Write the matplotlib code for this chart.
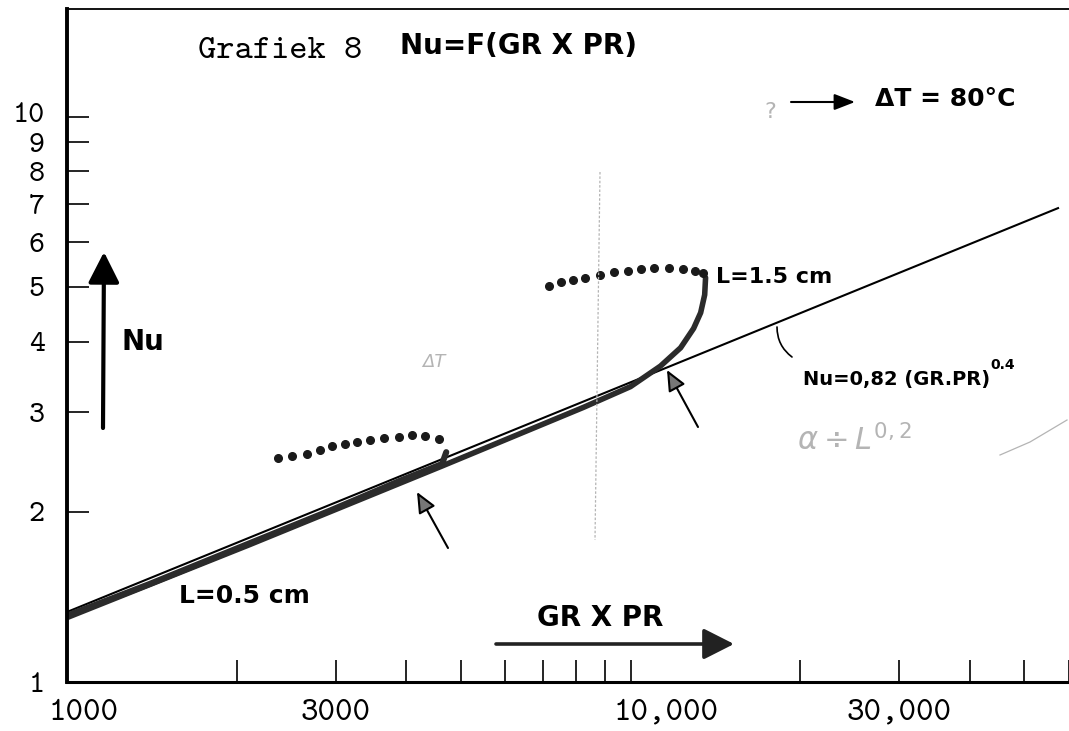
# -*- coding: utf-8 -*-

""" Grafiek 8: Nu = F(GR x PR), scanned hand drawn log-log chart """

import matplotlib
matplotlib.use("Agg")
from matplotlib import pyplot as plt
from matplotlib import transforms
from matplotlib.ticker import NullLocator
from matplotlib.lines import Line2D

W, H = 1069, 731

# correlation line Nu = 0,82 (GR.PR)^0.4 as drawn
line_x  = [1000, 57600]
line_nu = [1.33, 6.90]

# measured, L = 0.5 cm (thick)
l05_x  = [1000, 1400, 2110, 2930, 3900, 4630, 4710]
l05_nu = [1.31, 1.49, 1.76, 2.01, 2.27, 2.43, 2.55]

# measured, L = 1.5 cm (thick)
l15_x  = [1000, 2110, 4630, 8250, 10000, 11300, 12270, 12940, 13320, 13540, 13590]
l15_nu = [1.30, 1.75, 2.41, 3.06, 3.33, 3.62, 3.90, 4.22, 4.50, 4.84, 5.19]

# dotted continuations
dot05_x  = [2373, 2506, 2666, 2815, 2953, 3118, 3271, 3453, 3645, 3877, 4096, 4324, 4566]
dot05_nu = [2.49, 2.51, 2.53, 2.57, 2.61, 2.64, 2.66, 2.68, 2.70, 2.71, 2.73, 2.72, 2.69]
dot15_x  = [7180, 7540, 7920, 8320, 8810, 9330, 9880, 10420, 11030, 11680, 12370, 12990, 13430]
dot15_nu = [5.02, 5.09, 5.15, 5.19, 5.25, 5.32, 5.34, 5.38, 5.40, 5.40, 5.38, 5.34, 5.28]

# axis ticks
x_ticks  = [1000, 2000, 3000, 4000, 5000, 6000, 7000, 8000, 9000,
            10000, 20000, 30000, 40000, 50000, 60000]
x_labels = ['1000', '', '3000', '', '', '', '', '', '',
            '10,000', '', '30,000', '', '', '']
y_ticks  = [1, 2, 3, 4, 5, 6, 7, 8, 9, 10]
y_labels = ['1', '2', '3', '4', '5', '6', '7', '8', '9', '10']

hand = 'DejaVu Sans'
typew = 'cmtt10'
pencil = '#b4b4b4'


def fx(px):
    return px / W


def fy(py):
    return 1 - py / H


fig = plt.figure(figsize=(W / 100, H / 100), dpi=100)
ax = fig.add_axes([fx(67), 49 / H, 1 - fx(67), (722 - 49) / H])
ax.set_xscale('log')
ax.set_yscale('log')
ax.set_xlim(1000, 60000)
ax.set_ylim(1, 15.5)

ax.plot(line_x, line_nu, color='black', lw=1.5, solid_capstyle='butt')
ax.plot(l05_x, l05_nu, color='#2b2b2b', lw=4.4, solid_capstyle='round')
ax.plot(l15_x, l15_nu, color='#2b2b2b', lw=4.0, solid_capstyle='round')
ax.plot(dot05_x, dot05_nu, ls='none', marker='o', ms=5.5, color='#1a1a1a')
ax.plot(dot15_x, dot15_nu, ls='none', marker='o', ms=5.5, color='#1a1a1a')

ax.set_xticks(x_ticks, x_labels)
ax.set_yticks(y_ticks, y_labels)
ax.xaxis.set_minor_locator(NullLocator())
ax.yaxis.set_minor_locator(NullLocator())
ax.tick_params(axis='both', direction='in', length=16, width=1.2, color='black')
ax.tick_params(axis='x', pad=12)
ax.tick_params(axis='y', pad=16)
for lab in ax.get_xticklabels():
    lab.set_fontfamily(typew)
    lab.set_fontsize(24)
for lab in ax.get_yticklabels():
    lab.set_fontfamily(typew)
    lab.set_fontsize(22)

# typed labels sit a bit off their ticks
for lab in ax.get_xticklabels():
    if lab.get_text() == '1000':
        lab.set_transform(lab.get_transform() + transforms.ScaledTranslation(0.17, 0, fig.dpi_scale_trans))
    if lab.get_text() == '10,000':
        lab.set_transform(lab.get_transform() + transforms.ScaledTranslation(0.36, 0, fig.dpi_scale_trans))
for lab in ax.get_yticklabels():
    if lab.get_text() == '10':
        lab.set_transform(lab.get_transform() + transforms.ScaledTranslation(0, 0.04, fig.dpi_scale_trans))

ax.spines['right'].set_visible(False)
ax.spines['left'].set_linewidth(2.8)
ax.spines['bottom'].set_linewidth(2.2)
ax.spines['top'].set_linewidth(1.3)

# texts
fig.text(fx(198), fy(52), 'Grafiek 8', family=typew, size=25, va='center', ha='left')
fig.text(fx(400), fy(46), 'Nu=F(GR X PR)', family=hand, weight='bold', size=20, va='center')
fig.text(fx(875), fy(99), u'ΔT = 80°C', family=hand, weight='bold', size=18, va='center')
fig.text(fx(716), fy(277), 'L=1.5 cm', family=hand, weight='bold', size=16, va='center')
fig.text(fx(179), fy(596), 'L=0.5 cm', family=hand, weight='bold', size=18, va='center')
fig.text(fx(122), fy(342), 'Nu', family=hand, weight='bold', size=20, va='center')
fig.text(fx(537), fy(618), 'GR X PR', family=hand, weight='bold', size=20, va='center')
formula = fig.text(fx(803), fy(379), 'Nu=0,82 (GR.PR)', family=hand, weight='bold', size=14, va='center')
ax.annotate('0.4', xy=(1.0, 0.85), xycoords=formula, ha='left', va='bottom',
            family=hand, weight='bold', size=10)

# arrows
ax.annotate('', xy=(fx(104), fy(252)), xytext=(fx(103), fy(428)), xycoords='figure fraction',
            arrowprops=dict(arrowstyle='-|>,head_length=0.75,head_width=0.38', mutation_scale=25,
                            lw=3, color='black', shrinkA=0, shrinkB=0))
ax.annotate('', xy=(fx(734), fy(644)), xytext=(fx(496), fy(644)), xycoords='figure fraction',
            arrowprops=dict(arrowstyle='-|>,head_length=0.75,head_width=0.38', mutation_scale=25,
                            lw=2.6, color='#222222', shrinkA=0, shrinkB=0))
ax.annotate('', xy=(fx(855), fy(102)), xytext=(fx(791), fy(102)), xycoords='figure fraction',
            arrowprops=dict(arrowstyle='-|>,head_length=0.9,head_width=0.35', mutation_scale=14,
                            lw=1.5, color='black', shrinkA=0, shrinkB=0))
for tip, tail in [((417, 492), (448, 548)), ((667, 370), (698, 427))]:
    ax.annotate('', xy=(fx(tip[0]), fy(tip[1])), xytext=(fx(tail[0]), fy(tail[1])),
                xycoords='figure fraction',
                arrowprops=dict(arrowstyle='-|>,head_length=0.9,head_width=0.4', mutation_scale=14,
                                lw=1.5, ec='black', fc='#777777', shrinkA=0, shrinkB=0))
ax.annotate('', xy=(fx(792), fy(357)), xytext=(fx(777), fy(327)), xycoords='figure fraction',
            arrowprops=dict(arrowstyle='-', lw=1.2, color='black', shrinkA=0, shrinkB=0,
                            connectionstyle='arc3,rad=0.25'))

# pencil marks
fig.add_artist(Line2D([fx(600), fx(595)], [fy(172), fy(540)], color=pencil, lw=0.9, ls=(0, (2, 1.5))))
fig.add_artist(Line2D([fx(1000), fx(1030), fx(1067)], [fy(455), fy(442), fy(420)], color=pencil, lw=0.9))
fig.text(fx(797), fy(440), r'$\alpha \div L^{0,2}$', color=pencil, size=22, va='center')
fig.text(fx(422), fy(362), u'ΔT', color=pencil, size=13, va='center', style='italic')
fig.text(fx(764), fy(112), '?', color=pencil, size=16, va='center')

plt.savefig('out.png', dpi=100)
plt.close('all')
